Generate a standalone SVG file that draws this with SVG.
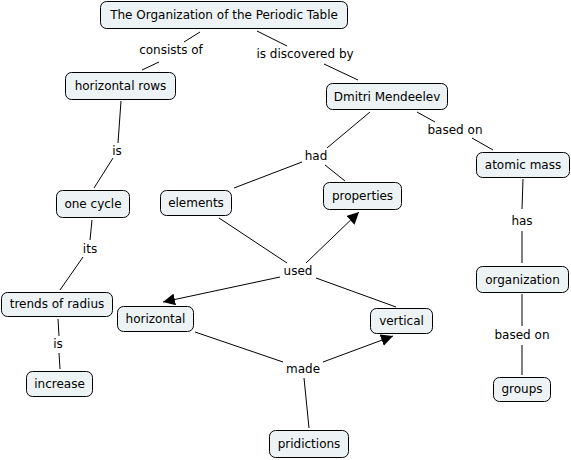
<svg xmlns="http://www.w3.org/2000/svg" width="571" height="460" viewBox="0 0 571 460">
<defs>
<style>
.n rect{fill:#edf3f5;stroke:#000;stroke-width:1}
text{font-family:"DejaVu Sans",Verdana,sans-serif;font-size:12px;fill:#000;text-anchor:middle;dominant-baseline:central}
.c line{stroke:#000;stroke-width:1}
</style>
<marker id="ah" viewBox="0 0 10 10" refX="10" refY="5" markerWidth="12" markerHeight="12" markerUnits="userSpaceOnUse" orient="auto"><path d="M0,0L10,5L0,10z" fill="#000"/></marker>
</defs>
<rect width="571" height="460" fill="#fff"/>
<g class="c">
<line x1="200" y1="32" x2="184" y2="42"/>
<line x1="159" y1="62" x2="142" y2="70"/>
<line x1="257" y1="31" x2="287" y2="46"/>
<line x1="324" y1="64" x2="358" y2="80"/>
<line x1="121" y1="101" x2="118" y2="143"/>
<line x1="113" y1="158" x2="94" y2="188"/>
<line x1="92" y1="220" x2="90" y2="240"/>
<line x1="83" y1="257" x2="60" y2="290"/>
<line x1="58" y1="319" x2="59" y2="336"/>
<line x1="59" y1="353" x2="60" y2="369"/>
<line x1="370" y1="112" x2="327" y2="148"/>
<line x1="302" y1="162" x2="234" y2="188"/>
<line x1="325" y1="165" x2="345" y2="181"/>
<line x1="417" y1="112" x2="435" y2="122"/>
<line x1="472" y1="138" x2="493" y2="150"/>
<line x1="523" y1="179" x2="522" y2="209"/>
<line x1="522" y1="231" x2="522" y2="263"/>
<line x1="522" y1="294" x2="522" y2="326"/>
<line x1="522" y1="345" x2="522" y2="375"/>
<line x1="219" y1="218" x2="287" y2="263"/>
<line x1="306" y1="263" x2="359" y2="212" marker-end="url(#ah)"/>
<line x1="280" y1="277" x2="163" y2="302" marker-end="url(#ah)"/>
<line x1="396" y1="307" x2="316" y2="278"/>
<line x1="195" y1="332" x2="283" y2="362"/>
<line x1="323" y1="362" x2="393" y2="336" marker-end="url(#ah)"/>
<line x1="304" y1="378" x2="309" y2="428"/>
</g>
<g class="lbl">
<text x="171" y="50">consists of</text>
<text x="305" y="54">is discovered by</text>
<text x="117" y="151">is</text>
<text x="90" y="249">its</text>
<text x="58" y="344">is</text>
<text x="316" y="156">had</text>
<text x="455" y="130">based on</text>
<text x="522" y="221">has</text>
<text x="522" y="335">based on</text>
<text x="298" y="271">used</text>
<text x="303" y="369">made</text>
</g>
<g id="title" class="n"><rect x="100.5" y="1.5" width="247" height="27" rx="6"/><text x="224" y="15">The Organization of the Periodic Table</text></g>
<g id="horizontal-rows" class="n"><rect x="65.5" y="72.5" width="110" height="27" rx="6"/><text x="120.5" y="86">horizontal rows</text></g>
<g id="dmitri" class="n"><rect x="326.5" y="83.5" width="121" height="26" rx="6"/><text x="387" y="96.5">Dmitri Mendeelev</text></g>
<g id="atomic-mass" class="n"><rect x="476.5" y="152.5" width="93" height="25" rx="6"/><text x="523" y="165">atomic mass</text></g>
<g id="properties" class="n"><rect x="323.5" y="182.5" width="78" height="27" rx="6"/><text x="362.5" y="195.5">properties</text></g>
<g id="one-cycle" class="n"><rect x="56.5" y="190.5" width="73" height="27" rx="6"/><text x="93" y="204">one cycle</text></g>
<g id="elements" class="n"><rect x="160.5" y="190.5" width="71" height="25" rx="6"/><text x="196" y="203">elements</text></g>
<g id="organization" class="n"><rect x="476.5" y="266.5" width="92" height="26" rx="6"/><text x="522.5" y="279.5">organization</text></g>
<g id="trends" class="n"><rect x="1.5" y="292.5" width="111" height="24" rx="6"/><text x="57" y="304">trends of radius</text></g>
<g id="horizontal" class="n"><rect x="117.5" y="306.5" width="76" height="25" rx="6"/><text x="155.5" y="318.5">horizontal</text></g>
<g id="vertical" class="n"><rect x="370.5" y="308.5" width="62" height="25" rx="6"/><text x="401.5" y="320.5">vertical</text></g>
<g id="increase" class="n"><rect x="26.5" y="371.5" width="66" height="25" rx="6"/><text x="59.5" y="383.5">increase</text></g>
<g id="groups" class="n"><rect x="493.5" y="377.5" width="57" height="24" rx="6"/><text x="522" y="389">groups</text></g>
<g id="pridictions" class="n"><rect x="269.5" y="430.5" width="79" height="27" rx="6"/><text x="309" y="443.5">pridictions</text></g>
</svg>
